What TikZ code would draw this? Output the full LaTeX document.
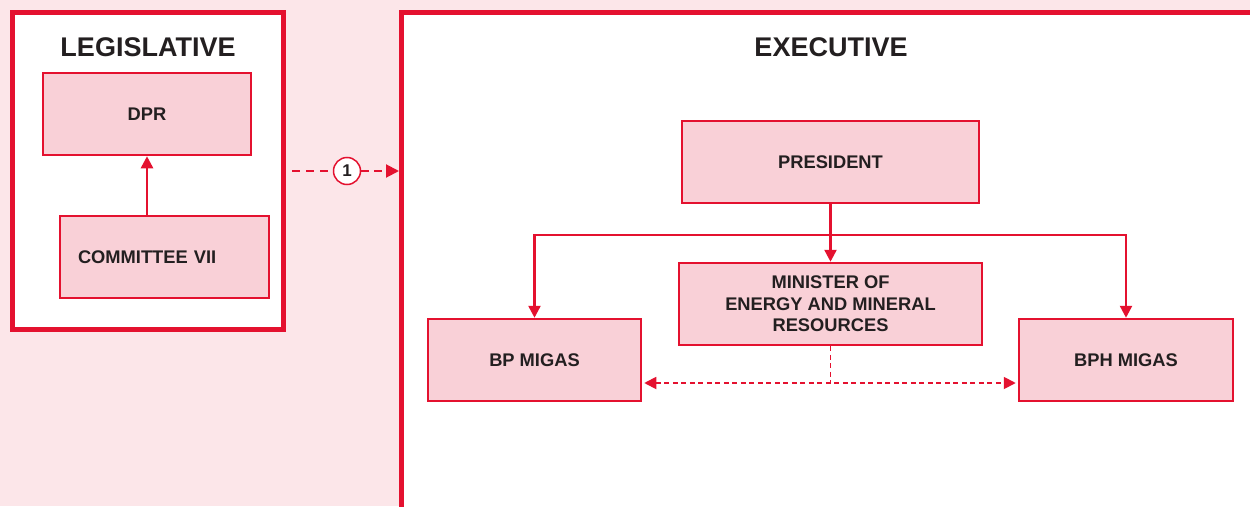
\documentclass[tikz,border=0pt]{standalone}
\usepackage{fontspec}
\setmainfont{Liberation Sans}
\usetikzlibrary{arrows.meta,calc}
\definecolor{bgpink}{HTML}{FCE6E9}
\definecolor{boxpink}{HTML}{F9D0D7}
\definecolor{myred}{HTML}{E4112F}
\definecolor{ink}{HTML}{231F20}
\tikzset{
  frame/.style={draw=myred, line width=5pt, fill=white},
  orgbox/.style={draw=myred, line width=2.5pt, fill=boxpink, rectangle, inner sep=0pt,
    text=ink, font=\fontsize{18.3}{21.5}\selectfont\bfseries, align=center},
  title/.style={text=ink, font=\fontsize{27}{32}\selectfont\bfseries, inner sep=0pt},
  tip/.style={-{Triangle[length=12pt,width=12pt]}},
  link/.style={draw=myred, line width=2.5pt, tip},
  dlink/.style={draw=myred, line width=1.8pt, dash pattern=on 5pt off 3.5pt},
}
\begin{document}
\begin{tikzpicture}[x=1pt,y=-1pt]
\useasboundingbox (0,0) rectangle (1250,506);
\fill[bgpink] (0,0) rectangle (1250,506);
\clip (0,0) rectangle (1250,506);
% frames
\draw[frame] (12.5,12) rectangle (283,329.5);
\draw[frame] (401.5,12) rectangle (1270,530);
\node[title] (legt) at (148,47) {LEGISLATIVE};
\node[title] (exet) at (831,47) {EXECUTIVE};
% legislative boxes
\node[orgbox, minimum width=208pt, minimum height=82pt] (dpr) at (147,114) {DPR};
\node[orgbox, minimum width=209pt, minimum height=82pt, text width=173pt, inner xsep=18pt, align=left] (com) at (164.5,257) {COMMITTEE VII};
\draw[link] (com.north -| dpr.south) -- (dpr.south);
% executive boxes
\node[orgbox, minimum width=297pt, minimum height=82pt] (pres) at (830.5,162) {PRESIDENT};
\node[orgbox, minimum width=303pt, minimum height=82pt] (min) at (830.5,304) {MINISTER OF\\ENERGY AND MINERAL\\RESOURCES};
\node[orgbox, minimum width=213pt, minimum height=82pt] (bp) at (534.5,360) {BP MIGAS};
\node[orgbox, minimum width=214pt, minimum height=82pt] (bph) at (1126,360) {BPH MIGAS};
% connectors
\coordinate (split) at (830.5,235);
\draw[link] (pres.south) -- (min.north);
\draw[link] (split) -| (bp.north);
\draw[link] (split) -| (bph.north);
\coordinate (dj) at (830.5,383);
\draw[dlink] (min.south) -- (dj);
\draw[dlink, {Triangle[length=12pt,width=12pt]}-{Triangle[length=12pt,width=12pt]}] ($(bp.east)+(2,23)$) -- ($(bph.west)+(-2,23)$);
% legislative to executive
\coordinate (lstart) at (292,171);
\coordinate (lend) at (399,171);
\node[circle, draw=myred, line width=1.5pt, fill=white, minimum size=27pt, inner sep=0pt, text=ink, font=\fontsize{17}{20}\selectfont\bfseries] (one) at (347,171) {1};
\draw[draw=myred, line width=2pt, dash pattern=on 8pt off 6pt] (lstart) -- (one.west);
\draw[draw=myred, line width=2pt, dash pattern=on 8pt off 5pt, -{Triangle[length=13pt,width=13pt]}] (one.east) -- (lend);
\end{tikzpicture}
\end{document}
